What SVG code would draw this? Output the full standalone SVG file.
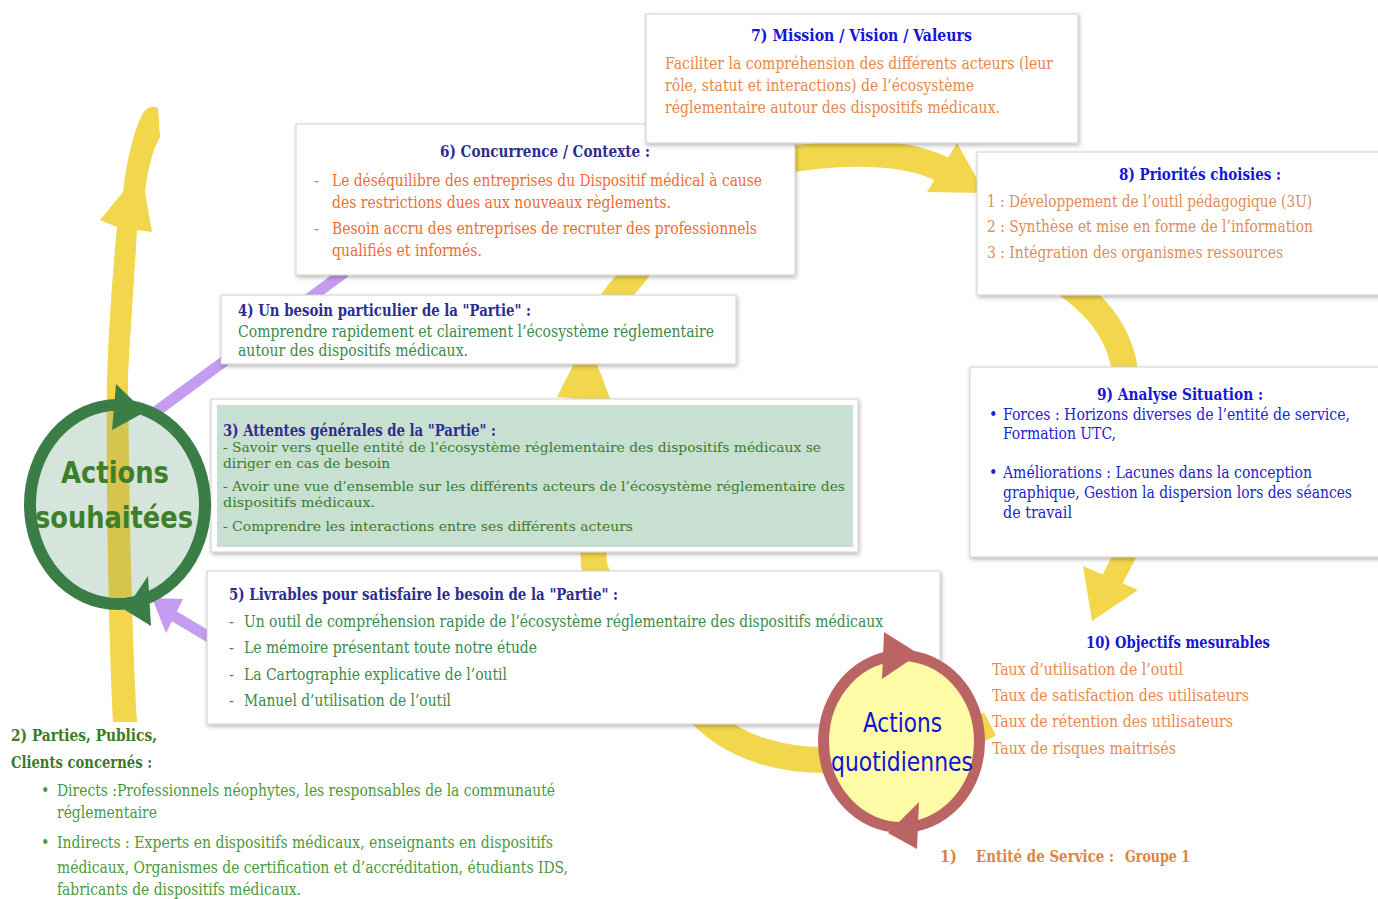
<svg xmlns="http://www.w3.org/2000/svg" width="1378" height="899" viewBox="0 0 1378 899">
<defs>
<filter id="sh" x="-5%" y="-10%" width="115%" height="130%"><feDropShadow dx="1" dy="2" stdDeviation="2" flood-color="#000" flood-opacity="0.28"/></filter>
<clipPath id="cs"><ellipse cx="117.5" cy="504.5" rx="81.5" ry="93.5"/></clipPath>
</defs>
<style>
.box{fill:#fff;stroke:#cfcfcf;stroke-width:1;filter:url(#sh)}
.t{font-family:"DejaVu Serif Condensed","DejaVu Serif",serif;font-weight:bold;font-size:16px}
.b{font-family:"DejaVu Serif Condensed","DejaVu Serif",serif;font-size:16px}
.b3{font-family:"DejaVu Serif Condensed","DejaVu Serif",serif;font-size:13.5px}
.band{fill:none;stroke:#f2d64b;stroke-width:26}
.yl{fill:#f2d64b}
.pl{fill:none;stroke:#c49cf0;stroke-width:11}
.navy{fill:#2d2d8f}
.blue{fill:#1616d4}
.big{font-family:"DejaVu Sans Condensed","DejaVu Sans",sans-serif}
</style>
<rect width="1378" height="899" fill="#fff"/>

<g id="connectors">
  <path id="left-arrow" class="yl" d="M117,227 L100,220 L123,192 C127,160 133,132 143,113 Q150,104 158,108 L160,137 C152,150 148,170 145,192 L152,232 L137,230 C133,300 129,350 128,380 C129,480 131,620 137,722 L113,722 C108,620 106,480 107,380 C109,320 113,270 117,227 Z"/>
  <path class="band" d="M990,724 C950,745 880,760 822,760 C780,760 742,748 714,726 C670,690 612,625 594,565 L587,398"/>
  <polygon class="yl" points="557,397 611,401 587,338"/>
  <path class="band" d="M588,362 C598,320 612,298 628,282 C680,215 740,168 800,158 C860,150 908,152 944,170"/>
  <polygon class="yl" points="957,143 927,192 985,193"/>
  <path class="band" d="M1040,268 C1080,290 1122,322 1126,380"/>
  <path class="band" style="stroke-width:22" d="M1133,540 L1112,580"/>
  <polygon class="yl" points="1083,566 1138,590 1092,621"/>
  <path class="pl" d="M150,416 L345,272"/>
  <path class="pl" d="M209,637 L172,615"/>
  <polygon fill="#c49cf0" points="152,598 183,599 166,633"/>
</g>

<g id="box6">
  <rect class="box" x="296" y="124" width="499" height="151"/>
  <text class="t navy" x="440" y="157" textLength="210" lengthAdjust="spacingAndGlyphs">6) Concurrence / Contexte :</text>
  <g class="b" fill="#f06c30">
    <text x="314" y="186">-</text>
    <text x="332" y="186" textLength="430" lengthAdjust="spacingAndGlyphs">Le déséquilibre des entreprises du Dispositif médical à cause</text>
    <text x="332" y="208" textLength="339" lengthAdjust="spacingAndGlyphs">des restrictions dues aux nouveaux règlements.</text>
    <text x="314" y="234">-</text>
    <text x="332" y="234" textLength="425" lengthAdjust="spacingAndGlyphs">Besoin accru des entreprises de recruter des professionnels</text>
    <text x="332" y="256" textLength="150" lengthAdjust="spacingAndGlyphs">qualifiés et informés.</text>
  </g>
</g>

<g id="box7">
  <rect class="box" x="646" y="14" width="432" height="129"/>
  <text class="t blue" x="751" y="41" textLength="221" lengthAdjust="spacingAndGlyphs">7) Mission / Vision / Valeurs</text>
  <g class="b" fill="#e5884c">
    <text x="665" y="69" textLength="388" lengthAdjust="spacingAndGlyphs">Faciliter la compréhension des différents acteurs (leur</text>
    <text x="665" y="91" textLength="309" lengthAdjust="spacingAndGlyphs">rôle, statut et interactions) de l’écosystème</text>
    <text x="665" y="113" textLength="335" lengthAdjust="spacingAndGlyphs">réglementaire autour des dispositifs médicaux.</text>
  </g>
</g>

<g id="box8">
  <rect class="box" x="977" y="152" width="430" height="143"/>
  <text class="t blue" x="1119" y="180" textLength="162" lengthAdjust="spacingAndGlyphs">8) Priorités choisies :</text>
  <g class="b" fill="#e08c58">
    <text x="987" y="207" textLength="325" lengthAdjust="spacingAndGlyphs">1 : Développement de l’outil pédagogique (3U)</text>
    <text x="987" y="232" textLength="326" lengthAdjust="spacingAndGlyphs">2 : Synthèse et mise en forme de l’information</text>
    <text x="987" y="258" textLength="296" lengthAdjust="spacingAndGlyphs">3 : Intégration des organismes ressources</text>
  </g>
</g>

<g id="box4">
  <rect class="box" x="221" y="295" width="515" height="69"/>
  <text class="t navy" x="238" y="316" textLength="293" lengthAdjust="spacingAndGlyphs">4) Un besoin particulier de la "Partie" :</text>
  <g class="b" fill="#3c8a4c">
    <text x="238" y="337" textLength="476" lengthAdjust="spacingAndGlyphs">Comprendre rapidement et clairement l’écosystème réglementaire</text>
    <text x="238" y="356" textLength="230" lengthAdjust="spacingAndGlyphs">autour des dispositifs médicaux.</text>
  </g>
</g>

<g id="box3">
  <rect class="box" x="211" y="399" width="647" height="153"/>
  <rect x="217" y="405" width="636" height="142" fill="#c8e0d2"/>
  <text class="t navy" x="223" y="436" textLength="273" lengthAdjust="spacingAndGlyphs">3) Attentes générales de la "Partie" :</text>
  <g class="b3" fill="#3b7b2a">
    <text x="223" y="452" textLength="598" lengthAdjust="spacingAndGlyphs">- Savoir vers quelle entité de l’écosystème réglementaire des dispositifs médicaux se</text>
    <text x="223" y="468" textLength="167" lengthAdjust="spacingAndGlyphs">diriger en cas de besoin</text>
    <text x="223" y="491" textLength="622" lengthAdjust="spacingAndGlyphs">- Avoir une vue d’ensemble sur les différents acteurs de l’écosystème réglementaire des</text>
    <text x="223" y="507" textLength="152" lengthAdjust="spacingAndGlyphs">dispositifs médicaux.</text>
    <text x="223" y="531" textLength="410" lengthAdjust="spacingAndGlyphs">- Comprendre les interactions entre ses différents acteurs</text>
  </g>
</g>

<g id="box5">
  <rect class="box" x="207" y="571" width="733" height="153"/>
  <text class="t navy" x="229" y="600" textLength="389" lengthAdjust="spacingAndGlyphs">5) Livrables pour satisfaire le besoin de la "Partie" :</text>
  <g class="b" fill="#3c8a4c">
    <text x="229" y="627">-</text>
    <text x="244" y="627" textLength="639" lengthAdjust="spacingAndGlyphs">Un outil de compréhension rapide de l’écosystème réglementaire des dispositifs médicaux</text>
    <text x="229" y="653">-</text>
    <text x="244" y="653" textLength="293" lengthAdjust="spacingAndGlyphs">Le mémoire présentant toute notre étude</text>
    <text x="229" y="680">-</text>
    <text x="244" y="680" textLength="263" lengthAdjust="spacingAndGlyphs">La Cartographie explicative de l’outil</text>
    <text x="229" y="706">-</text>
    <text x="244" y="706" textLength="207" lengthAdjust="spacingAndGlyphs">Manuel d’utilisation de l’outil</text>
  </g>
</g>

<g id="box9">
  <rect class="box" x="970" y="367" width="430" height="190"/>
  <text class="t blue" x="1097" y="400" textLength="166" lengthAdjust="spacingAndGlyphs">9) Analyse Situation :</text>
  <g class="b" fill="#2323cf">
    <text x="989" y="420">•</text>
    <text x="1003" y="420" textLength="347" lengthAdjust="spacingAndGlyphs">Forces : Horizons diverses de l’entité de service,</text>
    <text x="1003" y="439" textLength="113" lengthAdjust="spacingAndGlyphs">Formation UTC,</text>
    <text x="989" y="478">•</text>
    <text x="1003" y="478" textLength="309" lengthAdjust="spacingAndGlyphs">Améliorations : Lacunes dans la conception</text>
    <text x="1003" y="498" textLength="349" lengthAdjust="spacingAndGlyphs">graphique, Gestion la dispersion lors des séances</text>
    <text x="1003" y="518" textLength="69" lengthAdjust="spacingAndGlyphs">de travail</text>
  </g>
</g>

<g id="objectifs">
  <text class="t blue" x="1086" y="648" textLength="184" lengthAdjust="spacingAndGlyphs">10) Objectifs mesurables</text>
  <g class="b" fill="#e8894e">
    <text x="992" y="675" textLength="191" lengthAdjust="spacingAndGlyphs">Taux d’utilisation de l’outil</text>
    <text x="992" y="701" textLength="257" lengthAdjust="spacingAndGlyphs">Taux de satisfaction des utilisateurs</text>
    <text x="992" y="727" textLength="241" lengthAdjust="spacingAndGlyphs">Taux de rétention des utilisateurs</text>
    <text x="992" y="754" textLength="184" lengthAdjust="spacingAndGlyphs">Taux de risques maitrisés</text>
  </g>
</g>

<g id="entite">
  <g class="t" fill="#e0843f">
    <text x="940" y="862" textLength="17" lengthAdjust="spacingAndGlyphs">1)</text>
    <text x="976" y="862" textLength="138" lengthAdjust="spacingAndGlyphs">Entité de Service :</text>
    <text x="1125" y="862" textLength="65" lengthAdjust="spacingAndGlyphs">Groupe 1</text>
  </g>
</g>

<g id="parties">
  <g class="t" fill="#3a7a28">
    <text x="11" y="741" textLength="146" lengthAdjust="spacingAndGlyphs">2) Parties, Publics,</text>
    <text x="11" y="768" textLength="141" lengthAdjust="spacingAndGlyphs">Clients concernés :</text>
  </g>
  <g class="b" fill="#4b9a3b">
    <text x="41" y="796">•</text>
    <text x="57" y="796" textLength="498" lengthAdjust="spacingAndGlyphs">Directs :Professionnels néophytes, les responsables de la communauté</text>
    <text x="57" y="818" textLength="100" lengthAdjust="spacingAndGlyphs">réglementaire</text>
    <text x="41" y="848">•</text>
    <text x="57" y="848" textLength="496" lengthAdjust="spacingAndGlyphs">Indirects : Experts en dispositifs médicaux, enseignants en dispositifs</text>
    <text x="57" y="873" textLength="511" lengthAdjust="spacingAndGlyphs">médicaux, Organismes de certification et d’accréditation, étudiants IDS,</text>
    <text x="57" y="895" textLength="244" lengthAdjust="spacingAndGlyphs">fabricants de dispositifs médicaux.</text>
  </g>
</g>

<g id="actions-souhaitees">
  <ellipse cx="117.5" cy="504.5" rx="87.5" ry="99.5" fill="#d6e5db" stroke="#3a7d46" stroke-width="12"/>
  <path clip-path="url(#cs)" fill="#d5c44e" d="M117,227 L100,220 L123,192 C127,160 133,132 143,113 Q150,104 158,108 L160,137 C152,150 148,170 145,192 L152,232 L137,230 C133,300 129,350 128,380 C129,480 131,620 137,722 L113,722 C108,620 106,480 107,380 C109,320 113,270 117,227 Z"/>
  <polygon fill="#3a7d46" points="116,384 145,412 112,430"/>
  <polygon fill="#3a7d46" points="148,576 151,626 125,610"/>
  <g class="big" font-weight="bold" font-size="30" fill="#3d7f2a">
    <text x="61" y="483" textLength="108" lengthAdjust="spacingAndGlyphs">Actions</text>
    <text x="35" y="528" textLength="158" lengthAdjust="spacingAndGlyphs">souhaitées</text>
  </g>
</g>

<g id="actions-quotidiennes">
  <ellipse cx="901.5" cy="741.5" rx="78" ry="86" fill="#fdfba6" stroke="#bb6464" stroke-width="11"/>
  <polygon fill="#bb6464" points="884,632 919,654 882,679"/>
  <polygon fill="#bb6464" points="919,802 917,849 888,833"/>
  <g class="big" font-size="27" fill="#1212d6">
    <text x="863" y="732" textLength="79" lengthAdjust="spacingAndGlyphs">Actions</text>
    <text x="831" y="771" textLength="142" lengthAdjust="spacingAndGlyphs">quotidiennes</text>
  </g>
</g>
</svg>
